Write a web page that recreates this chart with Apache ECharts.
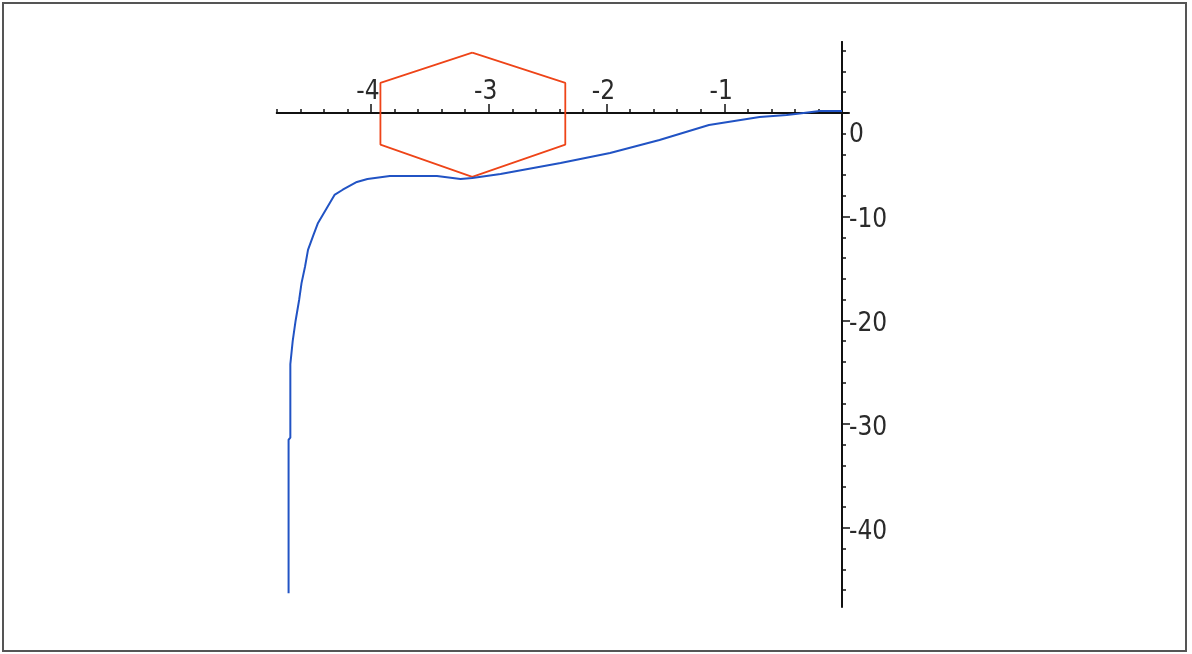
<!DOCTYPE html>
<html>
<head>
<meta charset="utf-8">
<script src="https://cdn.jsdelivr.net/npm/echarts@6/dist/echarts.min.js"></script>
<style>
  html, body { margin: 0; padding: 0; background: #fff; }
  #chart { width: 1192px; height: 654px; }
</style>
</head>
<body>
<div id="chart"></div>
<script>
// Curve (blue) sampled along x, with its y values
const curveX = [-4.70, -4.70, -4.685, -4.685, -4.665, -4.64, -4.61, -4.59, -4.56, -4.535, -4.49, -4.45,
                -4.37, -4.31, -4.24, -4.12, -4.03, -3.84, -3.44, -3.24, -3.14, -2.90, -2.39, -1.97,
                -1.55, -1.13, -0.70, -0.47, -0.36, -0.19, 0.0];
const curveY = [-46.3, -31.5, -31.3, -24.2, -22.0, -20.0, -18.0, -16.4, -14.8, -13.2, -11.8, -10.6,
                -9.06, -7.9, -7.4, -6.65, -6.36, -6.07, -6.07, -6.36, -6.27, -5.88, -4.82, -3.86,
                -2.6, -1.16, -0.39, -0.19, -0.05, 0.19, 0.19];

// Hexagon (orange-red) vertices, closed
const hexX = [-3.14, -2.35, -2.35, -3.14, -3.92, -3.92, -3.14];
const hexY = [5.81, 2.9, -3.05, -6.16, -3.05, 2.9, 5.81];

// Axis ticks and labels
const xMajorTicks = [-4, -3, -2, -1, 0];
const xMinorTicks = [-4.8, -4.6, -4.4, -4.2, -3.8, -3.6, -3.4, -3.2, -2.8, -2.6, -2.4, -2.2,
                     -1.8, -1.6, -1.4, -1.2, -0.8, -0.6, -0.4, -0.2];
const xLabels = [-4, -3, -2, -1];
const yMajorTicks = [-40, -30, -20, -10, 0];
const yMinorTicks = [6, 4, 2, -2, -4, -6, -8, -12, -14, -16, -18, -22, -24, -26, -28,
                     -32, -34, -36, -38, -42, -44, -46];
const yLabels = [-40, -30, -20, -10, 0];

const xRange = [-4.8, 0.05];
const yRange = [-47.6, 6.84];

const labelFont = {
  fontFamily: '"Liberation Sans Narrow", "DejaVu Sans Condensed", "Liberation Sans", sans-serif',
  fontSize: 26,
  color: '#2a2a2a'
};

const axisLineStyle = { color: '#111', width: 2 };
const tickStyle = { color: '#111', width: 1.5 };

function pairs(xs, ys) { return xs.map((x, i) => [x, ys[i]]); }

function xAxisDef(ticks, len, labels) {
  return {
    type: 'value', position: 'top', min: xRange[0], max: xRange[1],
    axisLine: { show: true, onZero: false, lineStyle: axisLineStyle },
    axisTick: { show: true, inside: false, length: len, customValues: ticks, lineStyle: tickStyle },
    axisLabel: labels
      ? Object.assign({ show: true, customValues: labels, margin: 8, padding: [0, 6, 0, 0] }, labelFont)
      : { show: false },
    splitLine: { show: false }
  };
}

function yAxisDef(ticks, len, labels) {
  return {
    type: 'value', position: 'right', min: yRange[0], max: yRange[1],
    axisLine: { show: true, onZero: false, lineStyle: axisLineStyle },
    axisTick: { show: true, inside: false, length: len, customValues: ticks, lineStyle: tickStyle },
    axisLabel: labels
      ? Object.assign({
          show: true, customValues: labels, margin: 7,
          padding: [8, 0, 0, 0],
          // the zero label sits below the horizontal axis
          formatter: function (v) { return v === 0 ? '{z|0}' : String(v); },
          rich: { z: Object.assign({ padding: [36, 0, 0, 0] }, labelFont) }
        }, labelFont)
      : { show: false },
    splitLine: { show: false }
  };
}

const gridBox = { left: 276.8, top: 42, width: 571.1, height: 564.8 };

const chart = echarts.init(document.getElementById('chart'), null, { renderer: 'canvas' });

chart.setOption({
  backgroundColor: '#ffffff',
  animation: false,
  graphic: [{
    type: 'rect',
    shape: { x: 3, y: 3, width: 1183, height: 648 },
    style: { fill: 'none', stroke: '#555', lineWidth: 2 },
    silent: true
  }],
  grid: Object.assign({ containLabel: false }, gridBox),
  xAxis: [xAxisDef(xMinorTicks, 4, null), xAxisDef(xMajorTicks, 9, xLabels)],
  yAxis: [yAxisDef(yMinorTicks, 4, null), yAxisDef(yMajorTicks, 8, yLabels)],
  series: [
    {
      type: 'line', name: 'hexagon', xAxisIndex: 0, yAxisIndex: 0,
      data: pairs(hexX, hexY), showSymbol: false, symbol: 'none',
      lineStyle: { color: '#ee4418', width: 1.8 }, z: 3
    },
    {
      type: 'line', name: 'curve', xAxisIndex: 0, yAxisIndex: 0,
      data: pairs(curveX, curveY), showSymbol: false, symbol: 'none',
      lineStyle: { color: '#2153c4', width: 2 }, z: 4
    }
  ]
});

// Move both axes so they cross at the origin, using the grid's own scales.
const origin = chart.convertToPixel({ xAxisIndex: 0, yAxisIndex: 0 }, [0, 0]);
const xOff = -(origin[1] - gridBox.top);
const yOff = -((gridBox.left + gridBox.width) - origin[0]);
chart.setOption({
  xAxis: [{ offset: xOff }, { offset: xOff }],
  yAxis: [{ offset: yOff }, { offset: yOff }]
});
</script>
</body>
</html>
